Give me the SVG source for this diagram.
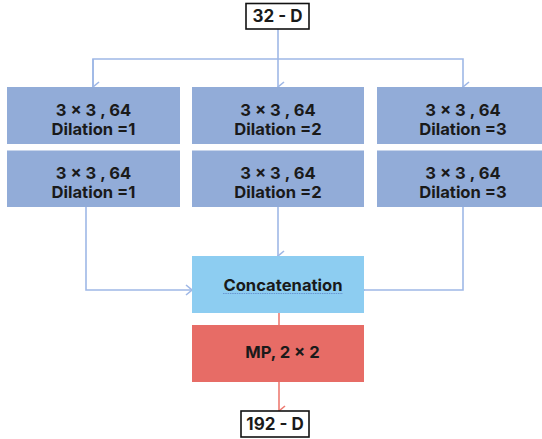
<svg xmlns="http://www.w3.org/2000/svg" width="542" height="439" viewBox="0 0 542 439">
<style>
.t{font-family:Inter,"Liberation Sans",Arial,sans-serif;font-weight:700;fill:#1a1a1a;text-anchor:middle}
.conv{fill:#92acd8}
.b{font-size:16.6px}
.io{fill:#fff;stroke:#111;stroke-width:1.6}
.cb{fill:none;stroke:#9fb8e6;stroke-width:1.6}
.cr{fill:none;stroke:#ee7b72;stroke-width:1.6}
</style>
<defs>
<marker id="ab" viewBox="0 0 12 10" refX="6" refY="9" markerWidth="12" markerHeight="10" markerUnits="userSpaceOnUse" orient="auto-start-reverse">
<polyline points="1,3 6,9 11,3" fill="none" stroke="#9fb8e6" stroke-width="1.6"/>
</marker>
<marker id="ar" viewBox="0 0 12 10" refX="6" refY="9" markerWidth="12" markerHeight="10" markerUnits="userSpaceOnUse" orient="auto-start-reverse">
<polyline points="1,3 6,9 11,3" fill="none" stroke="#ee7b72" stroke-width="1.6"/>
</marker>
<marker id="abh" viewBox="0 0 10 12" refX="9" refY="6" markerWidth="10" markerHeight="12" markerUnits="userSpaceOnUse">
<polyline points="3,1 9,6 3,11" fill="none" stroke="#9fb8e6" stroke-width="1.6"/>
</marker>
</defs>
<g id="connectors">
<line class="cb" x1="278" y1="29" x2="278" y2="87" marker-end="url(#ab)"/>
<polyline class="cb" points="93,87 93,59 463,59 463,87" marker-end="url(#ab)"/>
<line class="cb" x1="93" y1="59" x2="93" y2="87" marker-end="url(#ab)"/>
<line class="cb" x1="278" y1="207" x2="278" y2="256" marker-end="url(#ab)"/>
<polyline class="cb" points="86,207 86,290 192,290" marker-end="url(#abh)"/>
<polyline class="cb" points="463,207 463,290 364,290" marker-end="url(#abh)"/>
<line class="cr" x1="279" y1="313" x2="279" y2="325"/>
<line class="cr" x1="279" y1="382" x2="279" y2="411" marker-end="url(#ar)"/>
</g>
<g id="n-in">
<rect class="io" x="246" y="3.5" width="63" height="25.5"/>
<text class="t" x="277.5" y="22" font-size="17">32 - D</text>
</g>
<g id="n-c1a"><rect class="conv" x="7" y="87" width="173" height="57"/><text class="t b" x="93.5" y="116">3 × 3 , 64</text><text class="t b" x="93.5" y="135">Dilation =1</text></g>
<g id="n-c2a"><rect class="conv" x="192" y="87" width="172" height="57"/><text class="t b" x="278" y="116">3 × 3 , 64</text><text class="t b" x="278" y="135">Dilation =2</text></g>
<g id="n-c3a"><rect class="conv" x="377" y="87" width="172" height="57"/><text class="t b" x="463" y="116">3 × 3 , 64</text><text class="t b" x="463" y="135">Dilation =3</text></g>
<g id="n-c1b"><rect class="conv" x="7" y="150.5" width="173" height="56.5"/><text class="t b" x="93.5" y="179">3 × 3 , 64</text><text class="t b" x="93.5" y="198">Dilation =1</text></g>
<g id="n-c2b"><rect class="conv" x="192" y="150.5" width="172" height="56.5"/><text class="t b" x="278" y="179">3 × 3 , 64</text><text class="t b" x="278" y="198">Dilation =2</text></g>
<g id="n-c3b"><rect class="conv" x="377" y="150.5" width="172" height="56.5"/><text class="t b" x="463" y="179">3 × 3 , 64</text><text class="t b" x="463" y="198">Dilation =3</text></g>
<g id="n-concat">
<rect x="192" y="256" width="172" height="57" fill="#8dcdf1"/>
<text class="t b" x="283" y="291">Concatenation</text>
<line x1="223" y1="293.5" x2="343" y2="293.5" stroke="#5a7fc4" stroke-width="1" stroke-dasharray="1.5,0.8" opacity="0.7"/>
</g>
<g id="n-mp">
<rect x="192" y="325" width="172" height="57" fill="#e76c66"/>
<text class="t b" x="282.5" y="358">MP, 2 × 2</text>
</g>
<g id="n-out">
<rect class="io" x="241" y="411" width="68" height="26"/>
<text class="t" x="275" y="430" font-size="17">192 - D</text>
</g>
</svg>
